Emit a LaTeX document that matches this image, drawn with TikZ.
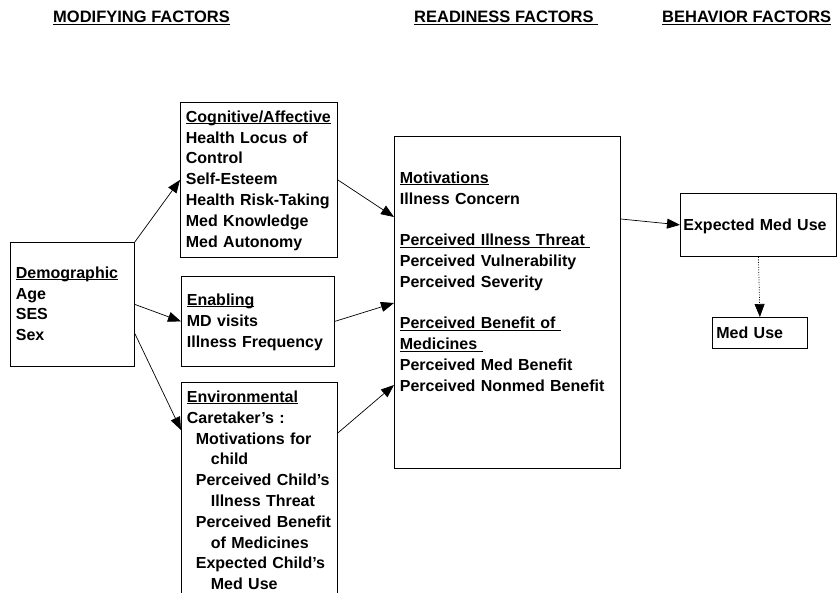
\documentclass[tikz,border=0pt]{standalone}
\usepackage{fontspec}
\setmainfont{Liberation Sans}
\usetikzlibrary{arrows.meta}
\newcommand{\undl}[1]{\leavevmode\setbox0=\hbox{#1}\rlap{\rule[-2pt]{\wd0}{1pt}}\box0}

\begin{document}
\begin{tikzpicture}[
x=1pt,y=-1pt,
factor/.style={
  draw,
  line width=0.8pt,
  anchor=north west,
  align=left,
  inner xsep=5.5pt,
  inner ysep=0pt,
  font=\fontsize{16}{20.8}\selectfont\bfseries
  },
heading/.style={anchor=base west,inner sep=0pt,font=\fontsize{16.5}{20}\selectfont\bfseries},
every edge/.append style={line width=0.7pt}
]
\clip (0,0) rectangle (837,593);
% column headings
\node[heading] (hmod) at (53,23) {\undl{MODIFYING FACTORS}};
\node[heading] (hready) at (414,23) {\undl{READINESS FACTORS\ }};
\node[heading] (hbeh) at (662,23) {\undl{BEHAVIOR FACTORS}};
% modifying factors
\node[factor,text width=113pt,text height=36pt,text depth=88pt] (demo) at (10,242)
  {\undl{Demographic}\\Age\\SES\\Sex};
\node[factor,text width=146pt,text height=20pt,text depth=135pt] (cog) at (180,102)
  {\undl{Cognitive/Affective}\\Health Locus of\\Control\\Self-Esteem\\Health Risk-Taking\\Med Knowledge\\Med Autonomy};
\node[factor,text width=142pt,text height=29pt,text depth=61pt] (enab) at (181,276)
  {\undl{Enabling}\\MD visits\\Illness Frequency};
\node[factor,text width=145pt,text height=20pt,text depth=218pt] (env) at (181,382)
  {\undl{Environmental}\\Caretaker's :\\
   \hspace*{9pt}Motivations for\\\hspace*{24pt}child\\
   \hspace*{9pt}Perceived Child's\\\hspace*{24pt}Illness Threat\\
   \hspace*{9pt}Perceived Benefit\\\hspace*{24pt}of Medicines\\
   \hspace*{9pt}Expected Child's\\\hspace*{24pt}Med Use};
% readiness factors
\node[factor,text width=215pt,text height=47pt,text depth=285pt] (ready) at (394,136)
  {\undl{Motivations}\\Illness Concern\\[20.8pt]
   \undl{Perceived Illness Threat\ }\\Perceived Vulnerability\\Perceived Severity\\[20.8pt]
   \undl{Perceived Benefit of\ }\\\undl{Medicines\ }\\Perceived Med Benefit\\Perceived Nonmed Benefit};
% behavior factors
\node[factor,text width=150pt,text height=37pt,text depth=26pt,inner xsep=3pt] (expect) at (680,193) {Expected Med Use};
\node[factor,text width=87pt,text height=21pt,text depth=10pt,inner xsep=4pt] (meduse) at (712,317) {Med Use};
\path[-{Triangle[length=13pt,width=10pt]}]
(demo.north east) edge (cog.west)
(demo.east) edge (enab.west)
(demo.-25) edge ([yshift=-48pt]env.north west)
(cog.east) edge ([yshift=-81pt]ready.north west)
(enab.east) edge ([yshift=-167pt]ready.north west)
([yshift=-51pt]env.north east) edge ([yshift=-249pt]ready.north west)
([yshift=-83pt]ready.north east) edge (expect.west)
(expect.south) edge[dash pattern=on 1pt off 1.5pt] (meduse.north);
\end{tikzpicture}
\end{document}
